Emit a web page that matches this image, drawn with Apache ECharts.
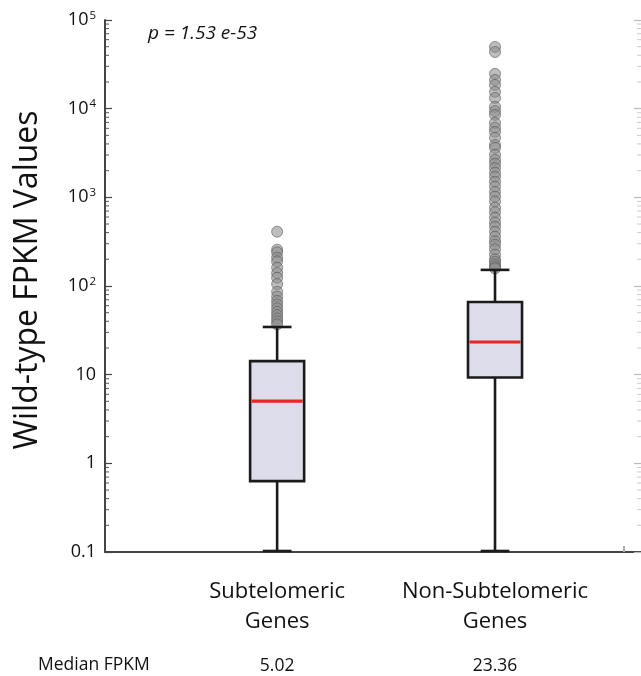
<!DOCTYPE html>
<html><head><meta charset="utf-8">
<script src="https://cdn.jsdelivr.net/npm/echarts@6/dist/echarts.min.js"></script>
<style>html,body{margin:0;padding:0;background:#fff}#c{width:641px;height:676px}</style>
</head><body><div id="c"></div>
<script>
// ---- data ----
const categories = ['Subtelomeric\nGenes', 'Non-Subtelomeric\nGenes'];
const categoryPositions = [1, 2];
const medianLabels = ['5.02', '23.36'];
// [lower whisker, Q1, median, Q3, upper whisker]
const subtelomericBox = [0.1, 0.63, 5.02, 14.2, 34.5];
const nonSubtelomericBox = [0.1, 9.3, 23.36, 66, 152];
const subtelomericOutliers = [410, 257, 240, 209, 190, 161, 140, 124, 105, 86, 76, 68, 62, 56, 51, 47, 43, 40, 37];
const nonSubtelomericOutliers = [49700, 43600, 24700, 21100, 18500, 15500, 13200, 10500, 9400, 8510, 6920, 6100,
  5480, 4690, 3900, 3620, 3020, 2650, 2400, 2150, 1900, 1710, 1500, 1320, 1150, 1020, 900, 764, 680, 589, 520,
  467, 410, 360, 320, 292, 260, 226, 200, 188, 175, 165, 158];
const yTickValues = [0.1, 1, 10, 100, 1000, 10000, 100000];
const minorMultipliers = [2, 3, 4, 5, 6, 7, 8, 9];
const decades = [0.1, 1, 10, 100, 1000, 10000];
const pValueText = 'p = 1.53 e-53';
const rowTitle = 'Median FPKM';
const yAxisTitle = 'Wild-type FPKM Values';

// ---- build ----
const FONT = 'Open Sans';
const minorTicks = [];
decades.forEach(d => minorMultipliers.forEach(m => minorTicks.push([d * m])));

const boxData = [
  [categoryPositions[0]].concat(subtelomericBox),
  [categoryPositions[1]].concat(nonSubtelomericBox)
];
const outlierData = subtelomericOutliers.map(v => [categoryPositions[0], v])
  .concat(nonSubtelomericOutliers.map(v => [categoryPositions[1], v]));

function supLabel(v) {
  if (v <= 10) return '{b|' + (v === 0.1 ? '0.1' : String(v)) + '}';
  const e = Math.round(Math.log10(v));
  return '{b|10}{s|' + e + '}';
}

function renderBox(params, api) {
  const x = api.value(0);
  const lo = api.coord([x, api.value(1)]);
  const q1 = api.coord([x, api.value(2)]);
  const med = api.coord([x, api.value(3)]);
  const q3 = api.coord([x, api.value(4)]);
  const hi = api.coord([x, api.value(5)]);
  const bl = api.coord([x - 0.124, api.value(3)])[0];
  const br = api.coord([x + 0.124, api.value(3)])[0];
  const cl = api.coord([x - 0.066, api.value(3)])[0];
  const cr = api.coord([x + 0.066, api.value(3)])[0];
  const cx = med[0];
  const s = { stroke: '#1b1b1b', lineWidth: 2.6, fill: null };
  return { type: 'group', children: [
    { type: 'line', shape: { x1: cx, y1: q3[1], x2: cx, y2: hi[1] }, style: s },
    { type: 'line', shape: { x1: cx, y1: q1[1], x2: cx, y2: lo[1] }, style: s },
    { type: 'line', shape: { x1: cl, y1: hi[1], x2: cr, y2: hi[1] }, style: s },
    { type: 'line', shape: { x1: cl, y1: lo[1] - 1, x2: cr, y2: lo[1] - 1 }, style: s },
    { type: 'rect', shape: { x: bl, y: q3[1], width: br - bl, height: q1[1] - q3[1] },
      style: { fill: '#dcdcea', stroke: '#1b1b1b', lineWidth: 2.6 } },
    { type: 'line', shape: { x1: bl + 1.5, y1: med[1], x2: br - 1.5, y2: med[1] },
      style: { stroke: '#ee2424', lineWidth: 3.2 } }
  ]};
}

function renderMinor(params, api) {
  const p = api.coord([0, api.value(0)]);
  const cs = params.coordSys;
  return { type: 'group', children: [
    { type: 'line', shape: { x1: cs.x, y1: p[1], x2: cs.x + 4, y2: p[1] }, style: { stroke: '#555', lineWidth: 1 } },
    { type: 'line', shape: { x1: cs.x + cs.width - 4, y1: p[1], x2: cs.x + cs.width, y2: p[1] }, style: { stroke: '#ccc', lineWidth: 1 } }
  ]};
}

const chart = echarts.init(document.getElementById('c'), null, { renderer: 'canvas' });
chart.setOption({
  backgroundColor: '#fff',
  animation: false,
  textStyle: { fontFamily: FONT },
  grid: { left: 105, right: 0, top: 20, bottom: 124, containLabel: false },
  title: { text: pValueText, left: 143, top: 19,
    textStyle: { fontFamily: FONT, fontStyle: 'italic', fontWeight: 'normal', fontSize: 19, color: '#111' } },
  graphic: [{ type: 'text', left: 38, top: 656,
    style: { text: rowTitle, fontFamily: FONT, fontSize: 17.5, fill: '#111' } }],
  xAxis: [{
    type: 'value', min: 0.21, max: 2.67, position: 'bottom',
    axisLine: { show: true, lineStyle: { color: '#444', width: 2 } },
    axisTick: { show: true, inside: true, length: 6, customValues: [2.59], lineStyle: { color: '#aaa', width: 2 } },
    splitLine: { show: false },
    axisLabel: { customValues: categoryPositions, margin: 25, color: '#111', fontFamily: FONT, fontSize: 22, lineHeight: 30,
      formatter: v => categories[categoryPositions.indexOf(Math.round(v))] || '' }
  }, {
    type: 'value', min: 0.21, max: 2.67, position: 'bottom', offset: 0,
    axisLine: { show: false }, axisTick: { show: false }, splitLine: { show: false },
    axisLabel: { customValues: categoryPositions, margin: 105, color: '#111', fontFamily: FONT, fontSize: 17.5,
      formatter: v => medianLabels[categoryPositions.indexOf(Math.round(v))] || '' }
  }],
  yAxis: [{
    type: 'log', logBase: 10, min: 0.1, max: 100000, position: 'left',
    name: yAxisTitle, nameLocation: 'middle', nameGap: 61, nameRotate: 90,
    nameTextStyle: { fontFamily: FONT, fontSize: 32, color: '#111', padding: [0, 0, 0, 12] },
    axisLine: { show: true, lineStyle: { color: '#444', width: 2 } },
    axisTick: { show: true, inside: true, length: 7, lineStyle: { color: '#444', width: 1.2 } },
    splitLine: { show: false },
    axisLabel: { margin: 9, color: '#111', formatter: supLabel,
      rich: { b: { fontFamily: FONT, fontSize: 18, color: '#111' },
              s: { fontFamily: FONT, fontSize: 11.5, color: '#111', verticalAlign: 'bottom', padding: [0, 0, 9, 1] } } }
  }, {
    type: 'log', logBase: 10, min: 0.1, max: 100000, position: 'right',
    axisLine: { show: false },
    axisTick: { show: true, inside: true, length: 7, lineStyle: { color: '#bbb', width: 1.2 } },
    axisLabel: { show: false }, splitLine: { show: false }
  }],
  series: [{
    type: 'custom', renderItem: renderMinor, data: minorTicks, encode: { y: 0 }, silent: true, z: 1, clip: false
  }, {
    type: 'scatter', data: outlierData, symbol: 'circle', symbolSize: 11, z: 2, silent: true,
    itemStyle: { color: 'rgba(140,140,140,0.72)', borderColor: 'rgba(85,85,85,0.75)', borderWidth: 1 }
  }, {
    type: 'custom', renderItem: renderBox, data: boxData, encode: { x: 0, y: [1, 2, 3, 4, 5] }, z: 3, silent: true, clip: false
  }]
});
</script></body></html>
